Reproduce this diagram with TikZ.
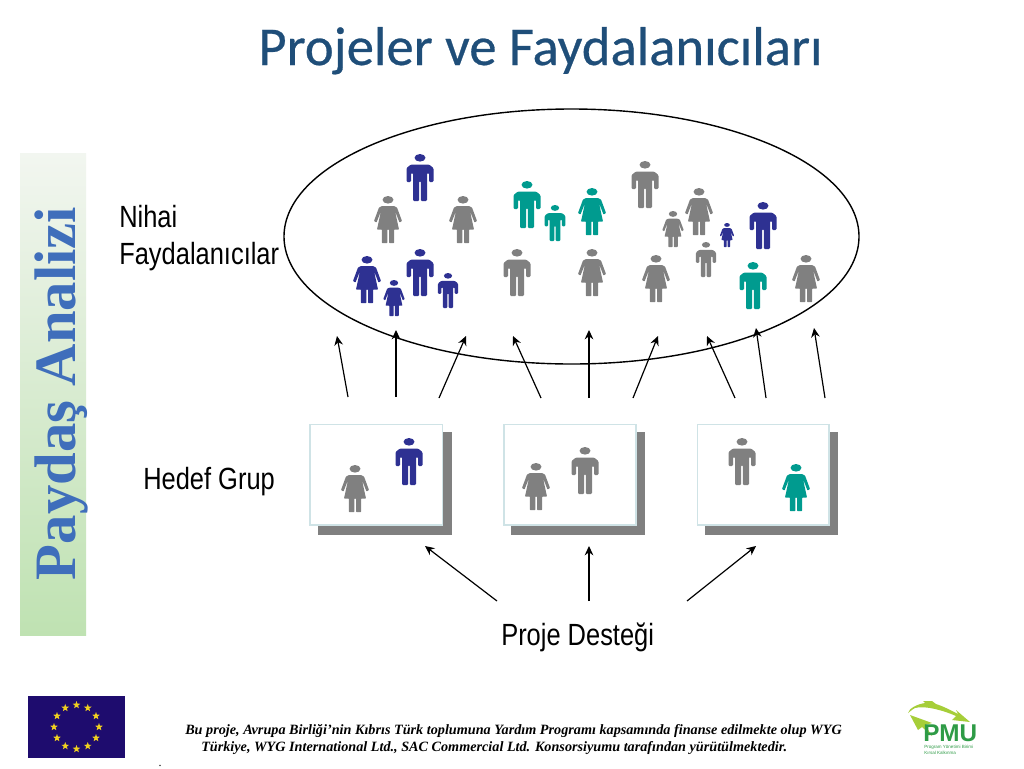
\documentclass[tikz,border=0pt]{standalone}
\usepackage{fontspec}
\setmainfont{Liberation Sans}
\newfontfamily\carlito[FakeBold=0.5]{Carlito}
\newfontfamily\serifb{Liberation Serif}
\usetikzlibrary{shapes.geometric,arrows.meta}
\definecolor{bluefig}{HTML}{2E3192}
\definecolor{greyfig}{HTML}{808080}
\definecolor{tealfig}{HTML}{009B8F}
\definecolor{titleblue}{HTML}{1F4E79}
\definecolor{barblue}{HTML}{3F6EBB}
\definecolor{pmugreen}{HTML}{2E9B46}
\definecolor{pmulime}{HTML}{A6CE39}
\definecolor{cardedge}{HTML}{CFE3E6}
\definecolor{eustarcol}{HTML}{F0D020}
\definecolor{eublue}{HTML}{1E0C6E}
\definecolor{bartop}{HTML}{F2F6F0}
\definecolor{barmid}{HTML}{D8EBD0}
\definecolor{barbot}{HTML}{BFE2B2}
\newcommand{\lblfont}{\fontsize{23}{27}\selectfont}
\newcommand{\narrow}[1]{\scalebox{.83}[1]{#1}}
\tikzset{
  flow/.style={-{Stealth[length=7pt,width=6.5pt]},line width=.9pt,black},
  lbl/.style={font=\lblfont,inner sep=0pt,align=left},
  card/.style={draw=cardedge,fill=white,line width=1pt},
  shadowbox/.style={fill=greyfig,draw=none},
  ring/.style={draw=black,line width=1.05pt},
  eustar/.style={star,star points=5,star point ratio=2.4,fill=eustarcol,draw=none,minimum size=6pt,inner sep=0pt}
}
\newcommand{\manfig}[4]{%
 \begin{scope}[shift={(#1,#2)},scale=#3/47]
  \fill[#4] (0,3.8) ellipse (5.5 and 3.8);
  \fill[#4,rounded corners=.8pt] (-9,10.5)--(9,10.5)--(13.5,14)--(13.5,28)--(9,28)--(9,19)--(7,19)--(7,47)--(.8,47)--(.8,27)--(-.8,27)--(-.8,47)--(-7,47)--(-7,19)--(-9,19)--(-9,28)--(-13.5,28)--(-13.5,14)--cycle;
 \end{scope}}
\newcommand{\womanfig}[4]{%
 \begin{scope}[shift={(#1,#2)},scale=#3/47]
  \fill[#4] (0,3.8) ellipse (5.5 and 3.8);
  \fill[#4,rounded corners=.4pt] (-6,10)--(6,10)--(9,11.5)--(14,25)--(11.5,26.5)--(7,15)--(11,33.5)--(6.2,33.5)--(6.2,47)--(1,47)--(1,33.5)--(-.6,33.5)--(-.6,47)--(-6.2,47)--(-6.2,33.5)--(-11,33.5)--(-7,15)--(-11.5,26.5)--(-14,25)--(-9,11.5)--cycle;
 \end{scope}}
\begin{document}
\begin{tikzpicture}[x=.75pt,y=-.75pt]
\useasboundingbox (0,0) rectangle (1024,768);
\fill[white] (0,0) rectangle (1024,768);
% title
\node[anchor=base,inner sep=0pt,text=titleblue] (title) at (540.5,65) {\carlito\fontsize{41}{46}\selectfont Projeler ve Faydalanıcıları};
% side bar
\path[top color=bartop,bottom color=barbot,middle color=barmid,draw=none] (20,153) rectangle (86,635);
\node[rotate=90,anchor=base,inner sep=0pt,text=barblue] (side) at (75,393.5) {\serifb\bfseries\fontsize{44}{50}\selectfont Paydaş Analizi};
% ellipse
\node[ellipse,ring,minimum width=431.25pt,minimum height=191.25pt,inner sep=0pt] (group) at (571.5,236.5) {};
% labels
\node[lbl,anchor=base west] (nihai) at (119,227) {\narrow{Nihai}};
\node[lbl,anchor=base west] (fayda) at (119,264) {\narrow{Faydalanıcılar}};
\node[lbl,anchor=base west] (hedef) at (143,489.5) {\narrow{Hedef Grup}};
\node[lbl,anchor=base west] (destek) at (501,645) {\narrow{Proje Desteği}};
% figures in the ellipse
\manfig{420}{154}{47}{bluefig}
\womanfig{388}{196}{47}{greyfig}
\womanfig{463}{196}{47}{greyfig}
\manfig{527}{181}{47}{tealfig}
\manfig{555}{205}{36}{tealfig}
\womanfig{592}{188}{47}{tealfig}
\manfig{645}{161}{47}{greyfig}
\womanfig{699}{188}{47}{greyfig}
\womanfig{673}{211}{36}{greyfig}
\womanfig{727}{223}{24}{bluefig}
\manfig{763}{202}{47}{bluefig}
\manfig{706}{242}{35}{greyfig}
\womanfig{367}{256}{47}{bluefig}
\womanfig{394}{280}{36}{bluefig}
\manfig{420}{249}{47}{bluefig}
\manfig{448}{273}{35}{bluefig}
\manfig{517}{249}{47}{greyfig}
\womanfig{592}{249}{47}{greyfig}
\womanfig{656}{255}{47}{greyfig}
\manfig{753}{262}{47}{tealfig}
\womanfig{806}{255}{47}{greyfig}
% cards
\fill[shadowbox] (318,432) rectangle (452,535);
\fill[shadowbox] (511,432) rectangle (645,535);
\fill[shadowbox] (705,432) rectangle (838,535);
\path[card] (310,424.5) rectangle (442.5,525);
\path[card] (504,424.5) rectangle (636,525);
\path[card] (697.5,424.5) rectangle (829,525);
\womanfig{355}{465}{47}{greyfig}
\manfig{409}{438}{47}{bluefig}
\womanfig{536}{463}{47}{greyfig}
\manfig{585}{447}{47}{greyfig}
\manfig{742}{438}{47}{greyfig}
\womanfig{796}{464}{47}{tealfig}
% upper arrows
\coordinate (a1s) at (348,397); \coordinate (a1e) at (337,336);
\coordinate (a2s) at (396,397); \coordinate (a2e) at (396,330);
\coordinate (a3s) at (439,398); \coordinate (a3e) at (466,336);
\coordinate (a4s) at (541,398); \coordinate (a4e) at (513,336);
\coordinate (a5s) at (589,398); \coordinate (a5e) at (589,330);
\coordinate (a6s) at (633,398); \coordinate (a6e) at (658,336);
\coordinate (a7s) at (735,398); \coordinate (a7e) at (707,336);
\coordinate (a8s) at (766,398); \coordinate (a8e) at (756,328);
\coordinate (a9s) at (825,398); \coordinate (a9e) at (814,328);
\foreach \i in {1,...,9} {\draw[flow] (a\i s) -- (a\i e);}
% lower arrows
\coordinate (b1s) at (497,601); \coordinate (b1e) at (425,546);
\coordinate (b2s) at (589,601); \coordinate (b2e) at (589,546);
\coordinate (b3s) at (687,601); \coordinate (b3e) at (756,546);
\foreach \i in {1,2,3} {\draw[flow] (b\i s) -- (b\i e);}
% EU flag
\fill[eublue] (28,696) rectangle (125,758);
\foreach \a in {0,30,...,330} {\node[eustar] at ({76.5+22.5*sin(\a)},{727-22*cos(\a)}) {};}
% footer
\node[anchor=base west,inner sep=0pt] (foot1) at (185,734) {\serifb\bfseries\itshape\fontsize{10.65}{12}\selectfont Bu proje, Avrupa Birliği’nin Kıbrıs Türk toplumuna Yardım Programı kapsamında finanse edilmekte olup WYG};
\node[anchor=base west,inner sep=0pt] (foot2) at (201,751) {\serifb\bfseries\itshape\fontsize{10.65}{12}\selectfont Türkiye, WYG International Ltd., SAC Commercial Ltd. Konsorsiyumu tarafından yürütülmektedir.};
\node[anchor=base,inner sep=0pt] (dot) at (160,766) {\serifb\fontsize{9}{10}\selectfont .};
% PMU logo
\fill[pmulime] (908,713) .. controls (909,708) and (918,704) .. (925,703) -- (923,701) -- (932,701) -- (936,704) .. controls (945,707) and (950,710) .. (958,714) -- (956,710) -- (970,722) -- (952,720) -- (956,716) .. controls (945,711) and (925,705) .. (915,708) .. controls (911,710) and (910,712) .. (908,713) -- cycle;
\fill[pmulime] (910,715) -- (932,723) -- (925,725) -- (932,736) -- (922,727) -- (918,730) -- cycle;
\node[anchor=base west,inner sep=0pt,text=pmugreen] (pmu) at (923,741) {\bfseries\fontsize{18.2}{20}\selectfont PMU};
\node[anchor=base west,inner sep=0pt,text=pmugreen] (pmu1) at (924,748) {\fontsize{3.4}{4}\selectfont Program Yönetimi Birimi};
\node[anchor=base west,inner sep=0pt,text=pmugreen] (pmu2) at (924,754) {\fontsize{3.4}{4}\selectfont Kırsal Kalkınma};
\end{tikzpicture}
\end{document}
